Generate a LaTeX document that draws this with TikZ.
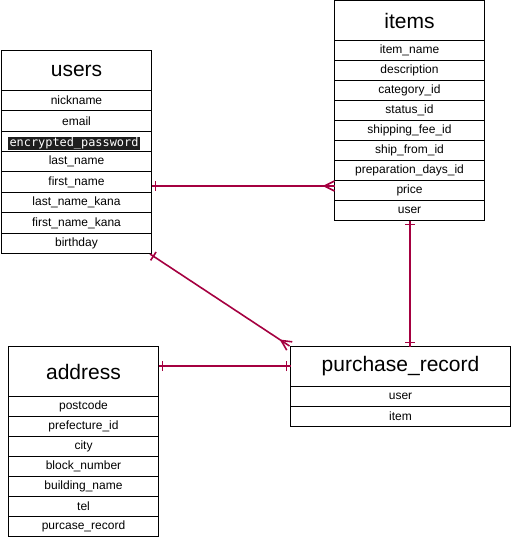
\documentclass[tikz,border=0pt]{standalone}
\usepackage{fontspec}
\setmainfont{Liberation Sans}
\newfontfamily\codefont{DejaVu Sans Mono}
\usetikzlibrary{calc}
\definecolor{erred}{HTML}{A50040}
\definecolor{codebg}{HTML}{1E1E1E}
\tikzset{
  tbl/.style={draw=black, line width=1pt, outer sep=0pt, inner sep=0pt, fill=white},
  hdr/.style={tbl, font=\fontsize{21}{25}\selectfont},
  rowcell/.style={tbl, font=\fontsize{12}{14}\selectfont, anchor=north},
  erline/.style={draw=erred, line width=1.6pt},
}
\newcommand\erBar[2]{%
  \draw[erline] ($(#1)!4pt!(#2)!5pt!90:(#2)$) -- ($(#1)!4pt!(#2)!5pt!-90:(#2)$);}
\newcommand\erCrow[2]{%
  \draw[erline] ($(#1)!10pt!(#2)$) -- ($(#1)!5pt!90:(#2)$)
                ($(#1)!10pt!(#2)$) -- ($(#1)!5pt!-90:(#2)$);}
\begin{document}
\begin{tikzpicture}[x=1pt,y=-1pt]
\useasboundingbox (0,0) rectangle (511,537);
% users
\node[hdr, minimum width=150pt, minimum height=40pt] (users) at (76.5,70.5) {users};
\tikzset{urow/.style={rowcell, minimum width=150pt, minimum height=20.375pt}}
\node[urow] (u1) at (users.south) {nickname};
\node[urow] (u2) at (u1.south) {email};
\node[urow] (u3) at (u2.south) {};
\node[urow] (u4) at (u3.south) {last\_name};
\node[urow] (u5) at (u4.south) {first\_name};
\node[urow] (u6) at (u5.south) {last\_name\_kana};
\node[urow] (u7) at (u6.south) {first\_name\_kana};
\node[urow] (u8) at (u7.south) {birthday};
\node[fill=codebg, text=white, inner xsep=1.5pt, inner ysep=0pt, minimum height=13.4pt,
      font=\codefont\fontsize{11.9}{13}\selectfont] (pw) at (74,143.8) {encrypted\_password};
% items
\node[hdr, minimum width=150pt, minimum height=40pt] (items) at (409.5,20.5) {items};
\tikzset{irow/.style={rowcell, minimum width=150pt, minimum height=20pt}}
\node[irow] (i1) at (items.south) {item\_name};
\node[irow] (i2) at (i1.south) {description};
\node[irow] (i3) at (i2.south) {category\_id};
\node[irow] (i4) at (i3.south) {status\_id};
\node[irow] (i5) at (i4.south) {shipping\_fee\_id};
\node[irow] (i6) at (i5.south) {ship\_from\_id};
\node[irow] (i7) at (i6.south) {preparation\_days\_id};
\node[irow] (i8) at (i7.south) {price};
\node[irow] (i9) at (i8.south) {user};
% address
\node[hdr, minimum width=150pt, minimum height=50pt] (address) at (83.5,371.5) {address};
\tikzset{arow/.style={rowcell, minimum width=150pt, minimum height=20pt}}
\node[arow] (a1) at (address.south) {postcode};
\node[arow] (a2) at (a1.south) {prefecture\_id};
\node[arow] (a3) at (a2.south) {city};
\node[arow] (a4) at (a3.south) {block\_number};
\node[arow] (a5) at (a4.south) {building\_name};
\node[arow] (a6) at (a5.south) {tel};
\node[arow] (a7) at (a6.south) {purcase\_record};
% purchase_record
\node[hdr, minimum width=220pt, minimum height=40pt] (pr) at (400.5,366.5) {purchase\_record};
\tikzset{prow/.style={rowcell, minimum width=220pt, minimum height=20pt}}
\node[prow] (p1) at (pr.south) {user};
\node[prow] (p2) at (p1.south) {item};
% connector end points
\coordinate (ui) at (151.5,186);
\coordinate (iu) at (334.5,186);
\coordinate (up) at (150,254);
\coordinate (pu) at (289.5,346);
\coordinate (ip) at (410,220.5);
\coordinate (pi) at (410,346.5);
\coordinate (ap) at (158.5,366);
\coordinate (pa) at (290.5,366);
% connectors
\draw[erline] (ui) -- (iu);
\erBar{ui}{iu}
\erCrow{iu}{ui}
\draw[erline] (up) -- (pu);
\erBar{up}{pu}
\erCrow{pu}{up}
\draw[erline] (ip) -- (pi);
\erBar{ip}{pi}
\erBar{pi}{ip}
\draw[erline] (ap) -- (pa);
\erBar{ap}{pa}
\erBar{pa}{ap}
\end{tikzpicture}
\end{document}
